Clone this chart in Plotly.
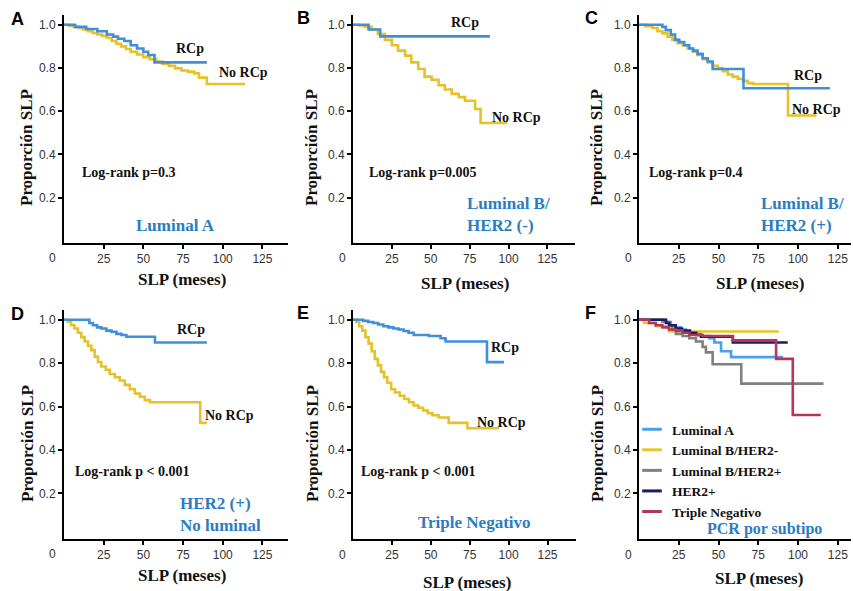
import plotly.graph_objects as go

W, H = 853, 591

# ---------------- DATA ----------------
# Panel A - Luminal A
A_rcp_t = [0, 7, 14, 21, 27, 31, 34, 38, 42, 46, 50, 53, 57, 90]
A_rcp_s = [1.0, 0.99, 0.98, 0.97, 0.955, 0.945, 0.935, 0.925, 0.905, 0.89, 0.875, 0.86, 0.826, 0.826]
A_no_t = [0, 3, 6, 9, 12, 15, 18, 21, 24, 27, 30, 33, 36, 39, 42, 46, 50, 54, 58, 62, 66, 70, 74, 78, 82, 85, 90, 114]
A_no_s = [1.0, 0.995, 0.99, 0.985, 0.978, 0.97, 0.962, 0.955, 0.948, 0.94, 0.925, 0.912, 0.9, 0.888, 0.875,
          0.862, 0.85, 0.84, 0.83, 0.82, 0.81, 0.798, 0.788, 0.783, 0.775, 0.755, 0.726, 0.726]

# Panel B - Luminal B / HER2 (-)
B_rcp_t = [0, 10, 17.5, 88]
B_rcp_s = [1.0, 0.978, 0.946, 0.946]
B_no_t = [0, 4, 7.5, 12, 16, 20.5, 25, 29, 33.5, 37.5, 42, 46, 50.5, 55, 59, 63.5, 68, 72, 78.5, 82, 99]
B_no_s = [1.0, 0.997, 0.99, 0.978, 0.957, 0.93, 0.905, 0.88, 0.857, 0.826, 0.795, 0.76, 0.745, 0.72, 0.7,
          0.68, 0.665, 0.648, 0.61, 0.545, 0.545]

# Panel C - Luminal B / HER2 (+)
C_rcp_t = [0, 14.7, 16.8, 20, 22.7, 25.3, 28.4, 31.6, 34.1, 36.8, 40, 43.2, 46.3, 65.7, 120]
C_rcp_s = [1.0, 0.99, 0.975, 0.955, 0.93, 0.92, 0.905, 0.89, 0.88, 0.865, 0.845, 0.83, 0.795, 0.706, 0.706]
C_no_t = [0, 4, 8.4, 11.6, 14.7, 17.9, 21, 24.2, 27.4, 30.5, 33.7, 36.8, 40, 43.2, 46.3, 49.5, 52.6, 55.8,
          58.9, 62.1, 65.3, 68.4, 71.6, 93.7, 111.6]
C_no_s = [1.0, 0.993, 0.985, 0.97, 0.96, 0.945, 0.93, 0.915, 0.905, 0.89, 0.875, 0.86, 0.84, 0.825, 0.81,
          0.8, 0.785, 0.77, 0.76, 0.75, 0.74, 0.73, 0.726, 0.58, 0.58]

# Panel D - HER2 (+) No luminal
D_rcp_t = [0, 16, 18.2, 20.8, 23.5, 26.7, 29.9, 33, 36.2, 39.3, 57.3, 90]
D_rcp_s = [1.0, 0.985, 0.975, 0.965, 0.96, 0.95, 0.945, 0.935, 0.93, 0.922, 0.895, 0.895]
D_no_t = [0, 2.4, 4.5, 6.6, 8.8, 10.9, 13, 15.1, 17.2, 19.3, 21.4, 23.5, 26.3, 28.8, 32, 35.1, 38.3, 41.5,
          44.6, 47.8, 50.9, 54.1, 85.8, 90]
D_no_s = [1.0, 0.99, 0.975, 0.96, 0.94, 0.92, 0.9, 0.88, 0.86, 0.83, 0.805, 0.785, 0.77, 0.75, 0.735, 0.72,
          0.7, 0.68, 0.66, 0.645, 0.63, 0.62, 0.525, 0.525]

# Panel E - Triple Negativo
E_rcp_t = [0, 6.5, 9.7, 13, 16.2, 19.5, 22.7, 26, 29.2, 32.5, 35.7, 39, 48.7, 56.3, 59.5, 86.1, 97]
E_rcp_s = [1.0, 0.995, 0.99, 0.985, 0.978, 0.97, 0.965, 0.96, 0.955, 0.948, 0.94, 0.93, 0.925, 0.915, 0.9,
           0.805, 0.805]
E_no_t = [0, 2, 4, 6, 8, 10, 12, 14, 16, 18, 20, 22, 24.5, 27, 30, 33, 36, 39, 42, 45, 48, 51, 55, 61.5,
          73.5, 94]
E_no_s = [1.0, 0.99, 0.97, 0.95, 0.92, 0.89, 0.855, 0.82, 0.79, 0.76, 0.735, 0.71, 0.68, 0.665, 0.65, 0.635,
          0.62, 0.605, 0.595, 0.582, 0.57, 0.56, 0.55, 0.525, 0.5, 0.5]

# Panel F - PCR por subtipo
F_names = ["Luminal A", "Luminal B/HER2-", "Luminal B/HER2+", "HER2+", "Triple Negativo"]
F_lumA_t = [0, 16.8, 20, 23.2, 26.3, 29.5, 33.7, 38.9, 44.2, 47.4, 51.6, 57.9, 90.6]
F_lumA_s = [1.0, 0.99, 0.975, 0.965, 0.955, 0.945, 0.935, 0.925, 0.915, 0.895, 0.855, 0.828, 0.828]
F_lumBneg_t = [0, 3.2, 10.5, 18.9, 88]
F_lumBneg_s = [1.0, 0.985, 0.97, 0.946, 0.946]
F_lumBpos_t = [0, 14.7, 18.9, 21, 23.2, 27.4, 31.6, 35.8, 40, 42.1, 46.3, 64.3, 116]
F_lumBpos_s = [1.0, 0.99, 0.975, 0.955, 0.935, 0.925, 0.915, 0.9, 0.875, 0.85, 0.795, 0.706, 0.706]
F_her2_t = [0, 17, 19, 23, 27, 32, 36, 39, 59, 93.5]
F_her2_s = [1.0, 0.985, 0.975, 0.96, 0.95, 0.94, 0.93, 0.922, 0.895, 0.895]
F_tn_t = [0, 6.3, 10.5, 14.7, 18.9, 23.2, 27.4, 31.6, 40, 59, 86.2, 96.7, 114.3]
F_tn_s = [1.0, 0.985, 0.975, 0.965, 0.955, 0.95, 0.94, 0.93, 0.925, 0.905, 0.82, 0.561, 0.561]

# Text content
panel_letters = ["A", "B", "C", "D", "E", "F"]
subtitles = ["Luminal A", "Luminal B/<br>HER2 (-)", "Luminal B/<br>HER2 (+)",
             "HER2 (+)<br>No luminal", "Triple Negativo", "PCR por subtipo"]
logrank = ["Log-rank p=0.3", "Log-rank p=0.005", "Log-rank p=0.4",
           "Log-rank p < 0.001", "Log-rank p < 0.001", None]
y_title = "Proporción SLP"
x_title = "SLP (meses)"
x_ticks = [25, 50, 75, 100, 125]
y_ticks = [0.2, 0.4, 0.6, 0.8, 1.0]

# ---------------- STYLE / GEOMETRY ----------------
BLUE = "#3F8FDB"
YELLOW = "#E5C12A"
TXT_BLUE = "#2B7DC1"
F_colors = ["#48A0E8", "#E8C52A", "#808080", "#1C1C60", "#B4375A"]
SERIF = "Liberation Serif, Times New Roman, serif"
SANS = "Liberation Sans, Arial, sans-serif"

# pixel geometry of each panel: x0, x1 (axis), y0 (top), y1 (x axis), xmax (data)
geo = [
    dict(x0=64, x1=288, y0=15, y1=243, xmax=141.1),
    dict(x0=353, x1=575, y0=15, y1=243, xmax=142.7),
    dict(x0=639, x1=851, y0=15, y1=243, xmax=133.3),
    dict(x0=64, x1=288, y0=310, y1=539, xmax=141.1),
    dict(x0=353, x1=576, y0=310, y1=539, xmax=143.3),
    dict(x0=639, x1=851, y0=310, y1=539, xmax=133.3),
]
YR = [-0.01, 1.045]


def px(x):
    return x / W


def py(y):
    return 1 - y / H


fig = go.Figure()

pairs = [
    (A_no_t, A_no_s, A_rcp_t, A_rcp_s),
    (B_no_t, B_no_s, B_rcp_t, B_rcp_s),
    (C_no_t, C_no_s, C_rcp_t, C_rcp_s),
    (D_no_t, D_no_s, D_rcp_t, D_rcp_s),
    (E_no_t, E_no_s, E_rcp_t, E_rcp_s),
]
for i, (nt, ns, rt, rs) in enumerate(pairs):
    ax = "" if i == 0 else str(i + 1)
    fig.add_trace(go.Scatter(x=nt, y=ns, mode="lines", line=dict(color=YELLOW, width=2.6, shape="hv"),
                             xaxis="x" + ax, yaxis="y" + ax, showlegend=False, name="No RCp"))
    fig.add_trace(go.Scatter(x=rt, y=rs, mode="lines", line=dict(color=BLUE, width=2.6, shape="hv"),
                             xaxis="x" + ax, yaxis="y" + ax, showlegend=False, name="RCp"))

F_series = [(F_lumA_t, F_lumA_s), (F_lumBneg_t, F_lumBneg_s), (F_lumBpos_t, F_lumBpos_s),
            (F_her2_t, F_her2_s), (F_tn_t, F_tn_s)]
for (t, s), c, n in zip(F_series, F_colors, F_names):
    fig.add_trace(go.Scatter(x=t, y=s, mode="lines", line=dict(color=c, width=2.6, shape="hv"),
                             xaxis="x6", yaxis="y6", showlegend=False, name=n))
# legend entries (short dashes)
for c, n in zip(F_colors, F_names):
    fig.add_trace(go.Scatter(x=[None], y=[None], mode="markers", name="<b>" + n + "</b>",
                             marker=dict(symbol="line-ew", size=14, line=dict(color=c, width=3)),
                             xaxis="x6", yaxis="y6", showlegend=True))

layout = dict(
    width=W, height=H, margin=dict(l=0, r=0, t=0, b=0),
    paper_bgcolor="white", plot_bgcolor="white",
    showlegend=True,
    legend=dict(x=px(632), y=py(414), xanchor="left", yanchor="top",
                font=dict(family=SERIF, size=13.5, color="#111"), bgcolor="rgba(0,0,0,0)",
                tracegroupgap=0),
)
annotations = []
for i, g in enumerate(geo):
    ax = "" if i == 0 else str(i + 1)
    layout["xaxis" + ax] = dict(
        domain=[px(g["x0"]), px(g["x1"])], range=[0, g["xmax"]], anchor="y" + ax,
        showline=True, linecolor="black", linewidth=2, showgrid=False, zeroline=False,
        ticks="outside", ticklen=4, tickwidth=1.5, tickcolor="black",
        tickvals=x_ticks, ticktext=[str(v) for v in x_ticks],
        tickfont=dict(family=SANS, size=12, color="#333"), fixedrange=True)
    layout["yaxis" + ax] = dict(
        domain=[py(g["y1"]), py(g["y0"])], range=YR, anchor="x" + ax,
        showline=True, linecolor="black", linewidth=2, showgrid=False, zeroline=False,
        ticks="outside", ticklen=4, tickwidth=1.5, tickcolor="black",
        tickvals=y_ticks, ticktext=["%.1f" % v for v in y_ticks],
        tickfont=dict(family=SANS, size=12, color="#333"), fixedrange=True)

# panel letters
letter_pos = [(17, 19), (303, 18), (591, 18), (17.5, 314), (303, 313), (590.5, 313)]
for L, (lx, ly) in zip(panel_letters, letter_pos):
    annotations.append(dict(text="<b>%s</b>" % L, x=px(lx), y=py(ly), xref="paper", yref="paper",
                            showarrow=False, xanchor="center", yanchor="middle",
                            font=dict(family=SANS, size=18, color="black")))
# y titles
for yx, yy in [(27, 148), (312, 148), (597, 148), (27, 444), (312, 444), (597, 444)]:
    annotations.append(dict(text="<b>%s</b>" % y_title, x=px(yx), y=py(yy), xref="paper", yref="paper",
                            showarrow=False, textangle=-90, xanchor="center", yanchor="middle",
                            font=dict(family=SERIF, size=17, color="#111")))
# x titles
for xx, xy in [(182, 280), (465, 283), (760, 283), (182, 575), (467, 582), (759, 578)]:
    annotations.append(dict(text="<b>%s</b>" % x_title, x=px(xx), y=py(xy), xref="paper", yref="paper",
                            showarrow=False, xanchor="center", yanchor="middle",
                            font=dict(family=SERIF, size=17, color="#111")))
# "0" labels at the origin
for zx, zy in [(52, 258), (342, 258), (628, 258), (52, 554), (342, 555), (628, 555)]:
    annotations.append(dict(text="0", x=px(zx), y=py(zy), xref="paper", yref="paper",
                            showarrow=False, xanchor="center", yanchor="middle",
                            font=dict(family=SANS, size=12, color="#333")))

# RCp / No RCp labels (data coordinates)
rcp_pos = [(79.4, 0.892), (71.7, 1.008), (106.3, 0.763), (79.7, 0.953), (97.7, 0.870)]
norcp_pos = [(112.8, 0.777), (104.8, 0.573), (111.6, 0.610), (104.0, 0.561), (95.4, 0.525)]
logrank_pos = [(10.1, 0.314), (9.0, 0.314), (5.0, 0.314), (5.7, 0.299), (3.9, 0.299)]
sub_pos = [(70, 0.069, "center"), (72, 0.124, "left"), (75.5, 0.122, "left"),
           (71.8, 0.105, "left"), (77.8, 0.064, "center"), (79.2, 0.036, "center")]
for i in range(6):
    ax = "" if i == 0 else str(i + 1)
    if i < 5:
        annotations.append(dict(text="<b>RCp</b>", x=rcp_pos[i][0], y=rcp_pos[i][1], xref="x" + ax,
                                yref="y" + ax, showarrow=False, xanchor="center", yanchor="middle",
                                font=dict(family=SERIF, size=14, color="#111")))
        annotations.append(dict(text="<b>No RCp</b>", x=norcp_pos[i][0], y=norcp_pos[i][1], xref="x" + ax,
                                yref="y" + ax, showarrow=False, xanchor="center", yanchor="middle",
                                font=dict(family=SERIF, size=14, color="#111")))
        annotations.append(dict(text="<b>%s</b>" % logrank[i], x=logrank_pos[i][0], y=logrank_pos[i][1],
                                xref="x" + ax, yref="y" + ax, showarrow=False, xanchor="left",
                                yanchor="middle", font=dict(family=SERIF, size=14, color="#111")))
    sx, sy, al = sub_pos[i]
    annotations.append(dict(text="<b>%s</b>" % subtitles[i], x=sx, y=sy, xref="x" + ax, yref="y" + ax,
                            showarrow=False, xanchor=al, yanchor="middle", align=al,
                            font=dict(family=SERIF, size=17 if i < 5 else 16, color=TXT_BLUE)))

layout["annotations"] = annotations
fig.update_layout(**layout)
fig.write_html("out.html")
